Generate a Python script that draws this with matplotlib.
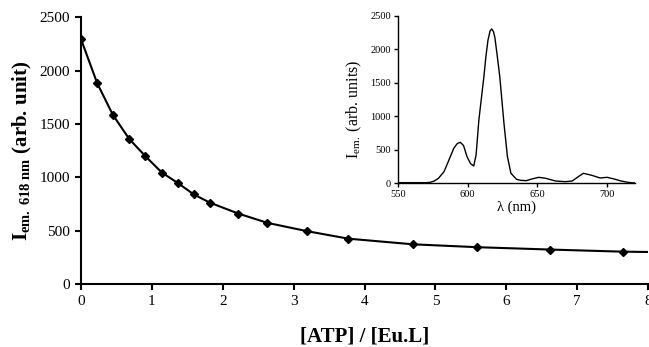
import matplotlib
matplotlib.use('Agg')
import matplotlib.pyplot as plt

plt.rcParams['font.family'] = ['Liberation Serif', 'DejaVu Serif']
plt.rcParams['mathtext.fontset'] = 'custom'
plt.rcParams['mathtext.rm'] = 'Liberation Serif'
plt.rcParams['mathtext.it'] = 'Liberation Serif:italic'
plt.rcParams['mathtext.bf'] = 'Liberation Serif:bold'

# titration: emission at 618 nm vs [ATP]/[Eu.L]
ratio = [0, 0.23, 0.45, 0.68, 0.91, 1.14, 1.37, 1.59, 1.82, 2.22, 2.63, 3.19,
         3.77, 4.68, 5.59, 6.61, 7.64]
intensity = [2295, 1880, 1585, 1360, 1197, 1045, 945, 840, 762, 660, 573, 495,
             425, 372, 345, 323, 303]
# the drawn curve continues to the right edge
tail_ratio = [7.64, 8.0]
tail_int = [303, 300]

# inset: emission spectrum
wl = [550, 560, 570, 573, 576, 579, 583, 586, 590, 592.5, 594.7, 597, 599.5,
      602, 604.3, 606, 608, 610, 611.6, 613, 614.5, 616, 617.2, 618.5, 619.5,
      621, 623, 626, 628.5, 631, 635, 638, 642, 646, 651, 656, 663, 670, 675,
      679, 683, 689, 695, 700, 705, 710, 715, 720]
spec = [5, 5, 5, 10, 30, 70, 170, 318, 519, 590, 608, 560, 393,
        290, 254, 420, 942, 1300, 1589, 1880, 2130, 2270, 2302, 2260, 2170,
        1930, 1589, 892, 393, 145, 55, 40, 35, 60, 85, 70, 30, 20, 30,
        90, 145, 115, 75, 85, 60, 30, 10, 0]

fig = plt.figure(figsize=(6.49, 3.47), dpi=100)
ax = fig.add_axes([0.1248, 0.1816, 0.8737, 0.7685])
ax.plot(ratio, intensity, color='black', linewidth=1.5, marker='D',
        markersize=4.5, zorder=3)
ax.plot(tail_ratio, tail_int, color='black', linewidth=1.5)
ax.set_xlim(0, 8)
ax.set_ylim(0, 2500)
ax.set_xticks(range(0, 9))
ax.set_yticks(range(0, 2501, 500))
ax.spines['top'].set_visible(False)
ax.spines['right'].set_visible(False)
for s in ['left', 'bottom']:
    ax.spines[s].set_linewidth(1.5)
ax.tick_params(direction='out', length=4, width=1.5, labelsize=11, pad=4)
ax.set_xlabel('[ATP] / [Eu.L]', fontsize=15, fontweight='bold')
ax.xaxis.set_label_coords(0.5, -0.16)
ax.set_ylabel(r'$\mathbf{I_{em.\ 618\ nm}}$ (arb. unit)', fontsize=15,
              fontweight='bold', labelpad=4)

ins = fig.add_axes([0.6133, 0.4726, 0.3651, 0.4822])
ins.plot(wl, spec, color='black', linewidth=1.0)
ins.set_xlim(550, 720)
ins.set_ylim(0, 2500)
ins.set_xticks([550, 600, 650, 700])
ins.set_yticks(range(0, 2501, 500))
ins.spines['top'].set_visible(False)
ins.spines['right'].set_visible(False)
for s in ['left', 'bottom']:
    ins.spines[s].set_linewidth(1.0)
ins.tick_params(direction='out', length=3, width=1.0, labelsize=7.5, pad=2)
ins.set_xlabel('\u03bb (nm)', fontsize=10.5, labelpad=1)
ins.set_ylabel(r'I$_{\rm em.}$ (arb. units)', fontsize=11.5)
ins.yaxis.set_label_coords(-0.145, 0.44)
ins.patch.set_alpha(0)

fig.savefig('out.png', dpi=100)
